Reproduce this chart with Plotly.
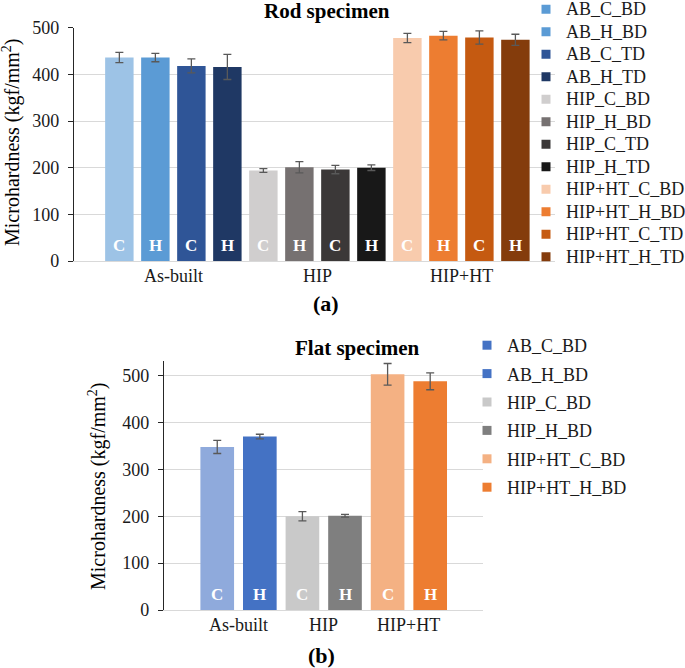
import plotly.graph_objects as go

# ---------------- data ----------------
rod_series = ["AB_C_BD", "AB_H_BD", "AB_C_TD", "AB_H_TD",
              "HIP_C_BD", "HIP_H_BD", "HIP_C_TD", "HIP_H_TD",
              "HIP+HT_C_BD", "HIP+HT_H_BD", "HIP+HT_C_TD", "HIP+HT_H_TD"]
rod_values = [436, 436, 418, 416, 194, 201, 196, 200, 478, 483, 479, 474]
rod_errors = [11, 9, 15, 27, 4, 12, 9, 6, 10, 9, 14, 12]
rod_groups = ["As-built"] * 4 + ["HIP"] * 4 + ["HIP+HT"] * 4
rod_labels = ["C", "H", "C", "H"] * 3

flat_series = ["AB_C_BD", "AB_H_BD", "HIP_C_BD", "HIP_H_BD", "HIP+HT_C_BD", "HIP+HT_H_BD"]
flat_values = [348, 370, 200, 201, 503, 488]
flat_errors = [14, 5, 10, 3, 23, 18]
flat_groups = ["As-built"] * 2 + ["HIP"] * 2 + ["HIP+HT"] * 2
flat_labels = ["C", "H"] * 3

group_names = ["As-built", "HIP", "HIP+HT"]
y_ticks = [0, 100, 200, 300, 400, 500]

# ---------------- styles ----------------
rod_colors = ["#9DC3E6", "#5B9BD5", "#2F5597", "#1F3864",
              "#D0CECE", "#767171", "#3B3838", "#181818",
              "#F8CBAD", "#ED7D31", "#C55A11", "#843C0C"]
rod_legend_colors = ["#5B9BD5", "#5B9BD5", "#2F5597", "#1F3864",
                     "#D0CECE", "#767171", "#3B3838", "#181818",
                     "#F8CBAD", "#ED7D31", "#C55A11", "#843C0C"]
flat_colors = ["#8FAADC", "#4472C4", "#C9C9C9", "#7F7F7F", "#F4B183", "#ED7D31"]
flat_legend_colors = ["#4472C4", "#4472C4", "#C9C9C9", "#7F7F7F", "#F4B183", "#ED7D31"]

FONT = "Liberation Serif"
W, H = 685, 668

fig = go.Figure()


def add_chart(series, values, errors, colors, legend_colors, xa, ya, legend, legend_fmt):
    for name, v, e, c in zip(series, values, errors, colors):
        fig.add_trace(go.Bar(
            x=[name], y=[v], name=name, showlegend=False,
            marker=dict(color=c, line=dict(width=0)),
            error_y=dict(type="data", array=[e], color="#595959", thickness=1.3, width=4),
            xaxis=xa, yaxis=ya, hoverinfo="x+y"))
    for name, c in zip(series, legend_colors):
        fig.add_trace(go.Scatter(
            x=[None], y=[None], mode="markers", name=legend_fmt % name, legend=legend,
            legendgroup=legend + name,
            marker=dict(symbol="square", size=9, color=c),
            xaxis=xa, yaxis=ya, hoverinfo="skip"))


add_chart(rod_series, rod_values, rod_errors, rod_colors, rod_legend_colors, "x", "y", "legend",
          "<span style='font-size:18px'>%s</span>")
add_chart(flat_series, flat_values, flat_errors, flat_colors, flat_legend_colors, "x2", "y2", "legend2",
          "%s")

annotations = []


def add_labels(series, labels, groups, xref, yref):
    for name, lab in zip(series, labels):
        annotations.append(dict(x=name, y=0, xref=xref, yref=yref, text="<b>%s</b>" % lab,
                                showarrow=False, yanchor="bottom", yshift=4,
                                font=dict(family=FONT, size=17, color="white")))
    for g in group_names:
        idx = [i for i, gg in enumerate(groups) if gg == g]
        annotations.append(dict(x=sum(idx) / len(idx), y=0, xref=xref, yref=yref, text=g,
                                showarrow=False, yanchor="top", yshift=-3,
                                font=dict(family=FONT, size=18, color="#1a1a1a")))


add_labels(rod_series, rod_labels, rod_groups, "x", "y")
add_labels(flat_series, flat_labels, flat_groups, "x2", "y2")


def paper_ann(text, px, py, size, bold=False, angle=0):
    annotations.append(dict(x=px / W, y=1 - py / H, xref="paper", yref="paper",
                            text=("<b>%s</b>" % text) if bold else text,
                            showarrow=False, xanchor="center", yanchor="middle",
                            textangle=angle,
                            font=dict(family=FONT, size=size, color="#000000")))


paper_ann("Rod specimen", 327, 11, 21, bold=True)
paper_ann("(a)", 326, 303, 22, bold=True)
paper_ann("Flat specimen", 357, 348, 21, bold=True)
paper_ann("(b)", 321, 655, 22, bold=True)
paper_ann("Microhardness (kgf/mm<sup>2</sup>)", 12, 142, 20, angle=-90)
paper_ann("Microhardness (kgf/mm<sup>2</sup>)", 97, 486, 20, angle=-90)

yaxis_common = dict(tickvals=y_ticks, showgrid=True, gridcolor="#D9D9D9", gridwidth=1,
                    showline=True, linecolor="#262626", linewidth=1.3,
                    ticks="outside", ticklen=5, tickcolor="#262626",
                    ticklabelstandoff=5,
                    tickfont=dict(family=FONT, size=18, color="#1a1a1a"),
                    zeroline=False, fixedrange=True)
xaxis_common = dict(type="category", showticklabels=False, showgrid=False,
                    showline=True, linecolor="#D9D9D9", linewidth=1, ticks="",
                    zeroline=False, fixedrange=True)

fig.update_layout(
    width=W, height=H, margin=dict(l=0, r=0, t=0, b=0, autoexpand=False),
    paper_bgcolor="white", plot_bgcolor="white",
    barmode="overlay", bargap=0.21,
    font=dict(family=FONT, size=18, color="#1a1a1a"),
    xaxis=dict(xaxis_common, domain=[74 / W, 555 / W], range=[-1.26, 12.1],
               categoryorder="array", categoryarray=rod_series, anchor="y"),
    yaxis=dict(yaxis_common, domain=[1 - 261 / H, 1 - 27.7 / H], range=[0, 500], anchor="x"),
    xaxis2=dict(xaxis_common, domain=[164 / W, 483 / W], range=[-1.25, 6.24],
                categoryorder="array", categoryarray=flat_series, anchor="y2"),
    yaxis2=dict(yaxis_common, domain=[1 - 610 / H, 1 - 360.7 / H], range=[0, 532], anchor="x2"),
    legend=dict(x=526 / W, y=1 + 7 / H, xanchor="left", yanchor="top", bgcolor="rgba(0,0,0,0)",
                font=dict(family=FONT, size=15, color="#1a1a1a"), tracegroupgap=0,
                itemclick=False, itemdoubleclick=False),
    legend2=dict(x=467 / W, y=1 - 327 / H, xanchor="left", yanchor="top", bgcolor="rgba(0,0,0,0)",
                 font=dict(family=FONT, size=18, color="#1a1a1a"), tracegroupgap=2,
                 itemclick=False, itemdoubleclick=False),
    annotations=annotations,
)

fig.write_html("out.html", config={"displayModeBar": False},
               post_script="document.body.style.margin='0';document.body.style.overflow='hidden';")
